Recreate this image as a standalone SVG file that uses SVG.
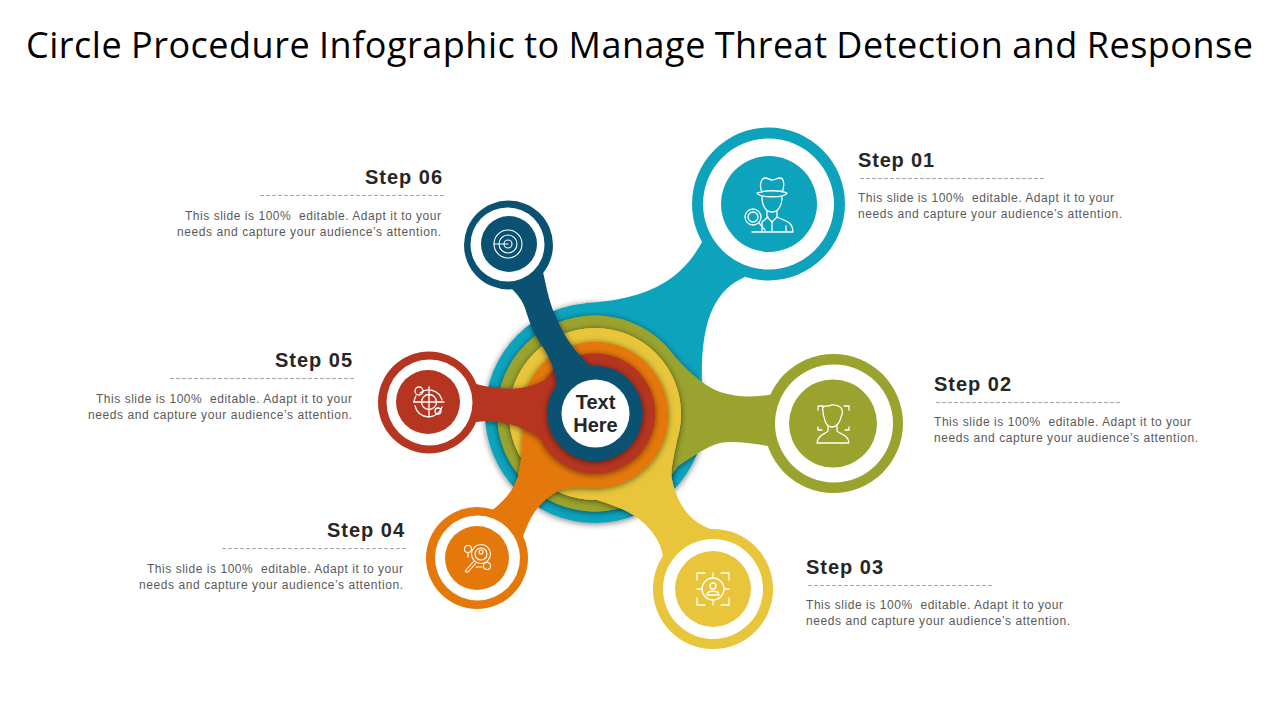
<svg xmlns="http://www.w3.org/2000/svg" width="1280" height="720" viewBox="0 0 1280 720">
<style>
.title{font-family:"Open Sans","Liberation Sans",sans-serif;font-size:36px;fill:#000;word-spacing:-1px}
.head{font-family:"Liberation Sans",Arial,sans-serif;font-size:20px;font-weight:700;fill:#262626}
.body{font-family:"Liberation Sans",Arial,sans-serif;font-size:12px;fill:#595959;white-space:pre}
.end{text-anchor:end}
.dash{stroke:#a6a6a6;stroke-width:1;stroke-dasharray:4 2;fill:none}
.ic{fill:none;stroke:#fff;stroke-width:1.300;stroke-linecap:round;stroke-linejoin:round}
.white{fill:#fff}
.teal{fill:#0ea3bd}.olive{fill:#9aa32e}.yellow{fill:#e8c53a}.orange{fill:#e5780b}.red{fill:#b53520}.navy{fill:#0b5272}
.center{font-family:"Liberation Sans",Arial,sans-serif;font-size:20px;font-weight:700;fill:#262626;text-anchor:middle}
</style>
<defs>
<filter id="sh" x="-20%" y="-20%" width="140%" height="140%"><feDropShadow dx="0" dy="1" stdDeviation="3" flood-color="#000" flood-opacity=".55"/></filter>
<clipPath id="disc"><circle cx="595" cy="413" r="110"/></clipPath>
<g id="s2"><circle cx="595" cy="413.500" r="98"/><path d="M675 357C685 368 700 384 720 392C740 398 755 397 775 394L775 447C755 444 735 440 720 443C705 447 690 458 672 470Z"/></g>
<g id="s3"><circle cx="595" cy="414" r="86"/><path d="M677 440C673 460 670 472 672 480C678 505 690 525 720 532L663 556C660 535 640 515 617 507C600 500 580 495 555 488Z"/></g>
<g id="s4"><circle cx="595" cy="415" r="73"/><path d="M523 430C522 450 521 465 518 477C512 492 505 500 490 512L522 540C530 515 540 500 560 490C570 487 580 487 595 488Z"/></g>
<g id="s5"><circle cx="595" cy="413.500" r="60"/><path d="M557 372C545 382 535 385 527 387C510 391 490 388 472 383L470 423C480 421 490 421 500 422C520 425 530 432 540 438Z"/></g>
<g id="s6"><circle cx="595" cy="413.500" r="47.500"/><path d="M590 366C575 352 565 338 557 320C550 305 547 290 543 272L511 288C518 295 522 300 525 308C530 325 535 335 543 347C550 358 556 372 557 385Z"/></g>
</defs>

<text class="title" x="26" y="58" textLength="1227" lengthAdjust="spacing">Circle Procedure Infographic to Manage Threat Detection and Response</text>

<g id="connectors">
<circle class="teal" cx="595" cy="413" r="110" filter="url(#sh)"/>
<path class="teal" d="M585 303C640 300 680 285 703 240L745 277C715 290 700 320 702 385L690 420L590 420Z"/>
<g clip-path="url(#disc)"><use href="#s2" class="olive" filter="url(#sh)"/></g><use href="#s2" class="olive"/>
<g clip-path="url(#disc)"><use href="#s3" class="yellow" filter="url(#sh)"/></g><use href="#s3" class="yellow"/>
<g clip-path="url(#disc)"><use href="#s4" class="orange" filter="url(#sh)"/></g><use href="#s4" class="orange"/>
<g clip-path="url(#disc)"><use href="#s5" class="red" filter="url(#sh)"/></g><use href="#s5" class="red"/>
<g clip-path="url(#disc)"><use href="#s6" class="navy" filter="url(#sh)"/></g><use href="#s6" class="navy"/>
</g>

<g id="hub">
<circle class="white" cx="595.500" cy="413.500" r="34"/>
<text class="center" x="595.500" y="409">Text</text>
<text class="center" x="595.500" y="432">Here</text>
</g>

<g id="step01">
<circle class="teal" cx="768.500" cy="204" r="76.500"/><circle class="white" cx="768.500" cy="204" r="65.500"/><circle class="teal" cx="769" cy="204" r="48"/>
<g class="ic">
<path d="M762 192C759 186 761 178 765 178C768 178 770 180 772 180C775 180 777 178 780 178C784 178 785 186 782 192"/>
<path d="M757 193C765 190 780 190 787 193C785 198 760 198 757 193Z"/>
<path d="M762 197C762 206 766 212 772 212C778 212 782 206 782 197"/>
<path d="M767 211V217L772 222L777 217V211"/>
<path d="M762 231V222L768 217M777 217L786 221C791 223 793 226 793 232M752 232H793M772 222V232M786 226V232"/>
<circle cx="753" cy="217" r="8"/><circle cx="753" cy="217" r="5"/>
<path d="M759 223L765 230"/>
</g>
</g>

<g id="step02">
<circle class="olive" cx="833.500" cy="423.500" r="69.500"/><circle class="white" cx="834" cy="423.500" r="59"/><circle class="olive" cx="833" cy="423.500" r="44"/>
<g class="ic">
<path d="M818 410V406H823M844 406H849V410M818 427V430H822M845 430H849V427"/>
<path d="M823 411C821 405 827 406 829 406C832 404 841 405 842 410C843 412 842 415 841 417C840 423 836 427 832 427C828 427 825 423 824 417C823 415 823 413 823 411Z"/>
<path d="M828 426V431C826 434 818 434 817 443H849C848 434 839 434 837 431V426"/>
</g>
</g>

<g id="step03">
<circle class="yellow" cx="713" cy="589" r="60"/><circle class="white" cx="713" cy="589" r="50"/><circle class="yellow" cx="713" cy="589" r="38"/>
<g class="ic">
<path d="M697 580V573H705M721 573H729V580M697 598V605H705M721 605H729V598"/>
<circle cx="713" cy="589" r="11"/>
<path d="M713 573V578M713 600V605M697 589H702M724 589H729"/>
<circle cx="713" cy="586" r="3"/><path d="M707 595C707 590 719 590 719 595Z"/>
</g>
</g>

<g id="step04">
<circle class="orange" cx="477" cy="558" r="51"/><circle class="white" cx="477.500" cy="558" r="42.500"/><circle class="orange" cx="477" cy="558" r="32"/>
<g class="ic" style="stroke-width:1.100">
<circle cx="481" cy="554" r="9.500"/><circle cx="481" cy="554" r="6"/><circle cx="481" cy="552" r="2"/>
<path d="M474 561L466 570C464 572 467 573 469 571L476 563"/>
<circle cx="468" cy="549" r="3.500"/><path d="M468 553V557"/>
<circle cx="487" cy="566" r="3.500"/><path d="M476 567H482"/>
</g>
</g>

<g id="step05">
<circle class="red" cx="429" cy="402.500" r="51"/><circle class="white" cx="429.500" cy="402.500" r="43"/><circle class="red" cx="428" cy="402" r="32"/>
<g class="ic">
<path d="M420 393A14 14 0 0 1 442 400M442 407A14 14 0 0 1 415 406"/>
<path d="M416 396A14 14 0 0 0 414 402"/>
<circle cx="429" cy="402" r="7.500"/><path d="M429 387V417M414 402H444"/>
<circle cx="419" cy="391" r="4"/><circle cx="438" cy="411" r="3"/>
</g>
</g>

<g id="step06">
<circle class="navy" cx="508.500" cy="245" r="44.500"/><circle class="white" cx="507.500" cy="244.500" r="37"/><circle class="navy" cx="509" cy="244" r="28"/>
<g class="ic" style="stroke-width:1.100">
<circle cx="508" cy="244" r="14"/><circle cx="508" cy="244" r="9"/><circle cx="508" cy="244" r="4"/>
<path d="M494 244H508"/>
</g>
</g>

<g id="label01">
<text class="head" x="858" y="167" textLength="76">Step 01</text>
<path class="dash" d="M860 178.500H1045"/>
<text class="body" x="858" y="202" textLength="256" xml:space="preserve">This slide is 100%  editable. Adapt it to your</text>
<text class="body" x="858" y="218" textLength="264">needs and capture your audience’s attention.</text>
</g>
<g id="label02">
<text class="head" x="934" y="391" textLength="77">Step 02</text>
<path class="dash" d="M936 402.500H1121"/>
<text class="body" x="934" y="426" textLength="257" xml:space="preserve">This slide is 100%  editable. Adapt it to your</text>
<text class="body" x="934" y="442" textLength="264">needs and capture your audience’s attention.</text>
</g>
<g id="label03">
<text class="head" x="806" y="574" textLength="77">Step 03</text>
<path class="dash" d="M808 585.500H993"/>
<text class="body" x="806" y="609" textLength="257" xml:space="preserve">This slide is 100%  editable. Adapt it to your</text>
<text class="body" x="806" y="625" textLength="264">needs and capture your audience’s attention.</text>
</g>
<g id="label04">
<text class="head end" x="404" y="537" textLength="77">Step 04</text>
<path class="dash" d="M222 548.500H407"/>
<text class="body end" x="403" y="573" textLength="256" xml:space="preserve">This slide is 100%  editable. Adapt it to your</text>
<text class="body end" x="403" y="589" textLength="264">needs and capture your audience’s attention.</text>
</g>
<g id="label05">
<text class="head end" x="352" y="367" textLength="77">Step 05</text>
<path class="dash" d="M170 378.500H355"/>
<text class="body end" x="352" y="403" textLength="256" xml:space="preserve">This slide is 100%  editable. Adapt it to your</text>
<text class="body end" x="352" y="419" textLength="264">needs and capture your audience’s attention.</text>
</g>
<g id="label06">
<text class="head end" x="442" y="184" textLength="77">Step 06</text>
<path class="dash" d="M260 195.500H445"/>
<text class="body end" x="441" y="220" textLength="256" xml:space="preserve">This slide is 100%  editable. Adapt it to your</text>
<text class="body end" x="441" y="236" textLength="264">needs and capture your audience’s attention.</text>
</g>
</svg>
